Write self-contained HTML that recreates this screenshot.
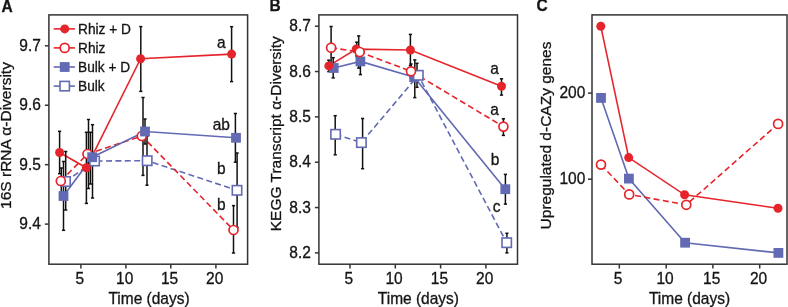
<!DOCTYPE html>
<html><head><meta charset="utf-8"><style>
html,body{margin:0;padding:0;background:#fff;}
body{width:788px;height:307px;overflow:hidden;}
svg{display:block;will-change:transform;}
</style></head><body>
<svg width="788" height="307" viewBox="0 0 788 307" font-family='"Liberation Sans", sans-serif' fill="#151515">
<style>text{stroke:#151515;stroke-width:0.3px;}</style>
<rect width="788" height="307" fill="#fff"/>
<polyline points="65.5,181.5 94.6,161 147.2,160.7 237,190.3" fill="none" stroke="#616ab2" stroke-width="1.6" stroke-dasharray="6,3.4"/>
<polyline points="60.8,181 87.5,154 141.8,136 233.5,230" fill="none" stroke="#e6242b" stroke-width="1.6" stroke-dasharray="6,3.4"/>
<polyline points="63.5,196 92.2,157.2 145,131.5 236,137.8" fill="none" stroke="#616ab2" stroke-width="1.6"/>
<polyline points="59.6,152.5 86.3,167.8 140.6,58.7 231.6,54.1" fill="none" stroke="#e6242b" stroke-width="1.6"/>
<line x1="65.7" y1="151.5" x2="65.7" y2="210" stroke="#111111" stroke-width="1.5"/>
<line x1="64.1" y1="151.5" x2="67.3" y2="151.5" stroke="#111111" stroke-width="1.5"/>
<line x1="64.1" y1="210" x2="67.3" y2="210" stroke="#111111" stroke-width="1.5"/>
<line x1="92.5" y1="124.7" x2="92.5" y2="198" stroke="#111111" stroke-width="1.5"/>
<line x1="90.9" y1="124.7" x2="94.1" y2="124.7" stroke="#111111" stroke-width="1.5"/>
<line x1="90.9" y1="198" x2="94.1" y2="198" stroke="#111111" stroke-width="1.5"/>
<line x1="147" y1="136" x2="147" y2="185.2" stroke="#111111" stroke-width="1.5"/>
<line x1="145.4" y1="136" x2="148.6" y2="136" stroke="#111111" stroke-width="1.5"/>
<line x1="145.4" y1="185.2" x2="148.6" y2="185.2" stroke="#111111" stroke-width="1.5"/>
<line x1="237.1" y1="153" x2="237.1" y2="227.6" stroke="#111111" stroke-width="1.5"/>
<line x1="235.5" y1="153" x2="238.7" y2="153" stroke="#111111" stroke-width="1.5"/>
<line x1="235.5" y1="227.6" x2="238.7" y2="227.6" stroke="#111111" stroke-width="1.5"/>
<line x1="61.3" y1="168" x2="61.3" y2="194" stroke="#111111" stroke-width="1.5"/>
<line x1="59.7" y1="168" x2="62.9" y2="168" stroke="#111111" stroke-width="1.5"/>
<line x1="59.7" y1="194" x2="62.9" y2="194" stroke="#111111" stroke-width="1.5"/>
<line x1="88.5" y1="119.5" x2="88.5" y2="188.5" stroke="#111111" stroke-width="1.5"/>
<line x1="86.9" y1="119.5" x2="90.1" y2="119.5" stroke="#111111" stroke-width="1.5"/>
<line x1="86.9" y1="188.5" x2="90.1" y2="188.5" stroke="#111111" stroke-width="1.5"/>
<line x1="143" y1="97.5" x2="143" y2="175.4" stroke="#111111" stroke-width="1.5"/>
<line x1="141.4" y1="97.5" x2="144.6" y2="97.5" stroke="#111111" stroke-width="1.5"/>
<line x1="141.4" y1="175.4" x2="144.6" y2="175.4" stroke="#111111" stroke-width="1.5"/>
<line x1="233.5" y1="205.6" x2="233.5" y2="253" stroke="#111111" stroke-width="1.5"/>
<line x1="231.9" y1="205.6" x2="235.1" y2="205.6" stroke="#111111" stroke-width="1.5"/>
<line x1="231.9" y1="253" x2="235.1" y2="253" stroke="#111111" stroke-width="1.5"/>
<line x1="63.5" y1="161.5" x2="63.5" y2="230.3" stroke="#111111" stroke-width="1.5"/>
<line x1="61.9" y1="161.5" x2="65.1" y2="161.5" stroke="#111111" stroke-width="1.5"/>
<line x1="61.9" y1="230.3" x2="65.1" y2="230.3" stroke="#111111" stroke-width="1.5"/>
<line x1="90.4" y1="132.3" x2="90.4" y2="184" stroke="#111111" stroke-width="1.5"/>
<line x1="88.8" y1="132.3" x2="92" y2="132.3" stroke="#111111" stroke-width="1.5"/>
<line x1="88.8" y1="184" x2="92" y2="184" stroke="#111111" stroke-width="1.5"/>
<line x1="145" y1="119" x2="145" y2="144" stroke="#111111" stroke-width="1.5"/>
<line x1="143.4" y1="119" x2="146.6" y2="119" stroke="#111111" stroke-width="1.5"/>
<line x1="143.4" y1="144" x2="146.6" y2="144" stroke="#111111" stroke-width="1.5"/>
<line x1="235.4" y1="113.5" x2="235.4" y2="162.2" stroke="#111111" stroke-width="1.5"/>
<line x1="233.8" y1="113.5" x2="237" y2="113.5" stroke="#111111" stroke-width="1.5"/>
<line x1="233.8" y1="162.2" x2="237" y2="162.2" stroke="#111111" stroke-width="1.5"/>
<line x1="59.6" y1="131.3" x2="59.6" y2="173.7" stroke="#111111" stroke-width="1.5"/>
<line x1="58" y1="131.3" x2="61.2" y2="131.3" stroke="#111111" stroke-width="1.5"/>
<line x1="58" y1="173.7" x2="61.2" y2="173.7" stroke="#111111" stroke-width="1.5"/>
<line x1="86.4" y1="132.3" x2="86.4" y2="203.4" stroke="#111111" stroke-width="1.5"/>
<line x1="84.8" y1="132.3" x2="88" y2="132.3" stroke="#111111" stroke-width="1.5"/>
<line x1="84.8" y1="203.4" x2="88" y2="203.4" stroke="#111111" stroke-width="1.5"/>
<line x1="140.8" y1="26.6" x2="140.8" y2="91.4" stroke="#111111" stroke-width="1.5"/>
<line x1="139.2" y1="26.6" x2="142.4" y2="26.6" stroke="#111111" stroke-width="1.5"/>
<line x1="139.2" y1="91.4" x2="142.4" y2="91.4" stroke="#111111" stroke-width="1.5"/>
<line x1="231.6" y1="26.7" x2="231.6" y2="81.6" stroke="#111111" stroke-width="1.5"/>
<line x1="230" y1="26.7" x2="233.2" y2="26.7" stroke="#111111" stroke-width="1.5"/>
<line x1="230" y1="81.6" x2="233.2" y2="81.6" stroke="#111111" stroke-width="1.5"/>
<rect x="60.8" y="176.8" width="9.4" height="9.4" fill="#fff" stroke="#616ab2" stroke-width="1.6"/>
<rect x="89.9" y="156.3" width="9.4" height="9.4" fill="#fff" stroke="#616ab2" stroke-width="1.6"/>
<rect x="142.5" y="156" width="9.4" height="9.4" fill="#fff" stroke="#616ab2" stroke-width="1.6"/>
<rect x="232.3" y="185.6" width="9.4" height="9.4" fill="#fff" stroke="#616ab2" stroke-width="1.6"/>
<circle cx="60.8" cy="181" r="4.5" fill="#fff" stroke="#e6242b" stroke-width="1.7"/>
<circle cx="87.5" cy="154" r="4.5" fill="#fff" stroke="#e6242b" stroke-width="1.7"/>
<circle cx="141.8" cy="136" r="4.5" fill="#fff" stroke="#e6242b" stroke-width="1.7"/>
<circle cx="233.5" cy="230" r="4.5" fill="#fff" stroke="#e6242b" stroke-width="1.7"/>
<rect x="58.6" y="191.1" width="9.8" height="9.8" fill="#616ab2"/>
<rect x="87.3" y="152.3" width="9.8" height="9.8" fill="#616ab2"/>
<rect x="140.1" y="126.6" width="9.8" height="9.8" fill="#616ab2"/>
<rect x="231.1" y="132.9" width="9.8" height="9.8" fill="#616ab2"/>
<circle cx="59.6" cy="152.5" r="4.5" fill="#e6242b"/>
<circle cx="86.3" cy="167.8" r="4.5" fill="#e6242b"/>
<circle cx="140.6" cy="58.7" r="4.5" fill="#e6242b"/>
<circle cx="231.6" cy="54.1" r="4.5" fill="#e6242b"/>
<rect x="48.9" y="14.9" width="198.7" height="249.3" fill="none" stroke="#333333" stroke-width="1.5"/>
<line x1="44.9" y1="45.81" x2="48.9" y2="45.81" stroke="#333333" stroke-width="1.5"/>
<text x="0" y="0" transform="translate(40.9,50.81) scale(1,1.06)" text-anchor="end" font-size="15.5">9.7</text>
<line x1="44.9" y1="105.24" x2="48.9" y2="105.24" stroke="#333333" stroke-width="1.5"/>
<text x="0" y="0" transform="translate(40.9,110.24) scale(1,1.06)" text-anchor="end" font-size="15.5">9.6</text>
<line x1="44.9" y1="164.67" x2="48.9" y2="164.67" stroke="#333333" stroke-width="1.5"/>
<text x="0" y="0" transform="translate(40.9,169.67) scale(1,1.06)" text-anchor="end" font-size="15.5">9.5</text>
<line x1="44.9" y1="224.1" x2="48.9" y2="224.1" stroke="#333333" stroke-width="1.5"/>
<text x="0" y="0" transform="translate(40.9,229.1) scale(1,1.06)" text-anchor="end" font-size="15.5">9.4</text>
<line x1="80.9" y1="264.2" x2="80.9" y2="268.5" stroke="#333333" stroke-width="1.5"/>
<text x="0" y="0" transform="translate(79.7,284.1) scale(1,1.06)" text-anchor="middle" font-size="15.5">5</text>
<line x1="125.9" y1="264.2" x2="125.9" y2="268.5" stroke="#333333" stroke-width="1.5"/>
<text x="0" y="0" transform="translate(124.7,284.1) scale(1,1.06)" text-anchor="middle" font-size="15.5">10</text>
<line x1="170.8" y1="264.2" x2="170.8" y2="268.5" stroke="#333333" stroke-width="1.5"/>
<text x="0" y="0" transform="translate(169.6,284.1) scale(1,1.06)" text-anchor="middle" font-size="15.5">15</text>
<line x1="215.9" y1="264.2" x2="215.9" y2="268.5" stroke="#333333" stroke-width="1.5"/>
<text x="0" y="0" transform="translate(214.7,284.1) scale(1,1.06)" text-anchor="middle" font-size="15.5">20</text>
<line x1="53.7" y1="28.9" x2="74.9" y2="28.9" stroke="#e6242b" stroke-width="1.6"/>
<circle cx="64.7" cy="28.9" r="4.5" fill="#e6242b"/>
<text x="0" y="0" transform="translate(78,33.9) scale(1,1.06)" text-anchor="start" font-size="13.7">Rhiz + D</text>
<line x1="53.7" y1="47.9" x2="74.9" y2="47.9" stroke="#e6242b" stroke-width="1.6"/>
<circle cx="64.7" cy="47.9" r="4.5" fill="#fff" stroke="#e6242b" stroke-width="1.7"/>
<text x="0" y="0" transform="translate(78,52.9) scale(1,1.06)" text-anchor="start" font-size="13.7">Rhiz</text>
<line x1="53.7" y1="67.0" x2="74.9" y2="67.0" stroke="#616ab2" stroke-width="1.6"/>
<rect x="59.8" y="62.1" width="9.8" height="9.8" fill="#616ab2"/>
<text x="0" y="0" transform="translate(78,72) scale(1,1.06)" text-anchor="start" font-size="13.7">Bulk + D</text>
<line x1="53.7" y1="86.1" x2="74.9" y2="86.1" stroke="#616ab2" stroke-width="1.6"/>
<rect x="60" y="81.4" width="9.4" height="9.4" fill="#fff" stroke="#616ab2" stroke-width="1.6"/>
<text x="0" y="0" transform="translate(78,91.1) scale(1,1.06)" text-anchor="start" font-size="13.7">Bulk</text>
<text x="0" y="0" transform="translate(221.4,47.8) scale(1,1.06)" text-anchor="middle" font-size="15.5">a</text>
<text x="0" y="0" transform="translate(221.3,129.5) scale(1,1.06)" text-anchor="middle" font-size="15.5">ab</text>
<text x="0" y="0" transform="translate(221.4,174) scale(1,1.06)" text-anchor="middle" font-size="15.5">b</text>
<text x="0" y="0" transform="translate(221.4,209.5) scale(1,1.06)" text-anchor="middle" font-size="15.5">b</text>
<text x="0" y="0" transform="translate(149,304.3) scale(1,1.06)" text-anchor="middle" font-size="15.5">Time (days)</text>
<text x="0" y="0" transform="translate(11.4,135.5) rotate(-90)" text-anchor="middle" font-size="15.5">16S rRNA α-Diversity</text>
<text x="0" y="0" transform="translate(1.6,12) scale(1,1.035)" text-anchor="start" font-size="15.5" font-weight="bold">A</text>
<polyline points="333.7,68 360.4,61.4 414.2,77.2 505.3,189.2" fill="none" stroke="#616ab2" stroke-width="1.6"/>
<polyline points="328.8,65.9 356.2,49.1 410.4,50 501.5,86.3" fill="none" stroke="#e6242b" stroke-width="1.6"/>
<polyline points="335.6,134.3 361.4,142.6 418.3,75.3 506.7,242.7" fill="none" stroke="#616ab2" stroke-width="1.6" stroke-dasharray="6,3.4"/>
<polyline points="331.1,47.7 359.7,52 411,71.3 503.4,126.6" fill="none" stroke="#e6242b" stroke-width="1.6" stroke-dasharray="6,3.4"/>
<line x1="333.2" y1="57.7" x2="333.2" y2="77.9" stroke="#111111" stroke-width="1.5"/>
<line x1="331.6" y1="57.7" x2="334.8" y2="57.7" stroke="#111111" stroke-width="1.5"/>
<line x1="331.6" y1="77.9" x2="334.8" y2="77.9" stroke="#111111" stroke-width="1.5"/>
<line x1="360.4" y1="48.2" x2="360.4" y2="74.6" stroke="#111111" stroke-width="1.5"/>
<line x1="358.8" y1="48.2" x2="362" y2="48.2" stroke="#111111" stroke-width="1.5"/>
<line x1="358.8" y1="74.6" x2="362" y2="74.6" stroke="#111111" stroke-width="1.5"/>
<line x1="414.8" y1="59.9" x2="414.8" y2="97.6" stroke="#111111" stroke-width="1.5"/>
<line x1="413.2" y1="59.9" x2="416.4" y2="59.9" stroke="#111111" stroke-width="1.5"/>
<line x1="413.2" y1="97.6" x2="416.4" y2="97.6" stroke="#111111" stroke-width="1.5"/>
<line x1="505.4" y1="174.4" x2="505.4" y2="204.1" stroke="#111111" stroke-width="1.5"/>
<line x1="503.8" y1="174.4" x2="507" y2="174.4" stroke="#111111" stroke-width="1.5"/>
<line x1="503.8" y1="204.1" x2="507" y2="204.1" stroke="#111111" stroke-width="1.5"/>
<line x1="328.8" y1="60.2" x2="328.8" y2="71.6" stroke="#111111" stroke-width="1.5"/>
<line x1="327.2" y1="60.2" x2="330.4" y2="60.2" stroke="#111111" stroke-width="1.5"/>
<line x1="327.2" y1="71.6" x2="330.4" y2="71.6" stroke="#111111" stroke-width="1.5"/>
<line x1="356.7" y1="42.2" x2="356.7" y2="56" stroke="#111111" stroke-width="1.5"/>
<line x1="355.1" y1="42.2" x2="358.3" y2="42.2" stroke="#111111" stroke-width="1.5"/>
<line x1="355.1" y1="56" x2="358.3" y2="56" stroke="#111111" stroke-width="1.5"/>
<line x1="410.4" y1="34.4" x2="410.4" y2="65.6" stroke="#111111" stroke-width="1.5"/>
<line x1="408.8" y1="34.4" x2="412" y2="34.4" stroke="#111111" stroke-width="1.5"/>
<line x1="408.8" y1="65.6" x2="412" y2="65.6" stroke="#111111" stroke-width="1.5"/>
<line x1="501.5" y1="78.8" x2="501.5" y2="95.1" stroke="#111111" stroke-width="1.5"/>
<line x1="499.9" y1="78.8" x2="503.1" y2="78.8" stroke="#111111" stroke-width="1.5"/>
<line x1="499.9" y1="95.1" x2="503.1" y2="95.1" stroke="#111111" stroke-width="1.5"/>
<line x1="335.2" y1="115.7" x2="335.2" y2="154.8" stroke="#111111" stroke-width="1.5"/>
<line x1="333.6" y1="115.7" x2="336.8" y2="115.7" stroke="#111111" stroke-width="1.5"/>
<line x1="333.6" y1="154.8" x2="336.8" y2="154.8" stroke="#111111" stroke-width="1.5"/>
<line x1="362.6" y1="118.5" x2="362.6" y2="168.7" stroke="#111111" stroke-width="1.5"/>
<line x1="361" y1="118.5" x2="364.2" y2="118.5" stroke="#111111" stroke-width="1.5"/>
<line x1="361" y1="168.7" x2="364.2" y2="168.7" stroke="#111111" stroke-width="1.5"/>
<line x1="417" y1="63.3" x2="417" y2="87.3" stroke="#111111" stroke-width="1.5"/>
<line x1="415.4" y1="63.3" x2="418.6" y2="63.3" stroke="#111111" stroke-width="1.5"/>
<line x1="415.4" y1="87.3" x2="418.6" y2="87.3" stroke="#111111" stroke-width="1.5"/>
<line x1="506.9" y1="233.3" x2="506.9" y2="252.9" stroke="#111111" stroke-width="1.5"/>
<line x1="505.3" y1="233.3" x2="508.5" y2="233.3" stroke="#111111" stroke-width="1.5"/>
<line x1="505.3" y1="252.9" x2="508.5" y2="252.9" stroke="#111111" stroke-width="1.5"/>
<line x1="331.1" y1="26.5" x2="331.1" y2="68.9" stroke="#111111" stroke-width="1.5"/>
<line x1="329.5" y1="26.5" x2="332.7" y2="26.5" stroke="#111111" stroke-width="1.5"/>
<line x1="329.5" y1="68.9" x2="332.7" y2="68.9" stroke="#111111" stroke-width="1.5"/>
<line x1="358.7" y1="35.9" x2="358.7" y2="68.1" stroke="#111111" stroke-width="1.5"/>
<line x1="357.1" y1="35.9" x2="360.3" y2="35.9" stroke="#111111" stroke-width="1.5"/>
<line x1="357.1" y1="68.1" x2="360.3" y2="68.1" stroke="#111111" stroke-width="1.5"/>
<line x1="411" y1="64" x2="411" y2="78" stroke="#111111" stroke-width="1.5"/>
<line x1="409.4" y1="64" x2="412.6" y2="64" stroke="#111111" stroke-width="1.5"/>
<line x1="409.4" y1="78" x2="412.6" y2="78" stroke="#111111" stroke-width="1.5"/>
<line x1="503.4" y1="118.8" x2="503.4" y2="135.4" stroke="#111111" stroke-width="1.5"/>
<line x1="501.8" y1="118.8" x2="505" y2="118.8" stroke="#111111" stroke-width="1.5"/>
<line x1="501.8" y1="135.4" x2="505" y2="135.4" stroke="#111111" stroke-width="1.5"/>
<rect x="328.8" y="63.1" width="9.8" height="9.8" fill="#616ab2"/>
<rect x="355.5" y="56.5" width="9.8" height="9.8" fill="#616ab2"/>
<rect x="409.3" y="72.3" width="9.8" height="9.8" fill="#616ab2"/>
<rect x="500.4" y="184.3" width="9.8" height="9.8" fill="#616ab2"/>
<circle cx="328.8" cy="65.9" r="4.5" fill="#e6242b"/>
<circle cx="356.2" cy="49.1" r="4.5" fill="#e6242b"/>
<circle cx="410.4" cy="50" r="4.5" fill="#e6242b"/>
<circle cx="501.5" cy="86.3" r="4.5" fill="#e6242b"/>
<rect x="330.9" y="129.6" width="9.4" height="9.4" fill="#fff" stroke="#616ab2" stroke-width="1.6"/>
<rect x="356.7" y="137.9" width="9.4" height="9.4" fill="#fff" stroke="#616ab2" stroke-width="1.6"/>
<rect x="413.6" y="70.6" width="9.4" height="9.4" fill="#fff" stroke="#616ab2" stroke-width="1.6"/>
<rect x="502" y="238" width="9.4" height="9.4" fill="#fff" stroke="#616ab2" stroke-width="1.6"/>
<circle cx="331.1" cy="47.7" r="4.5" fill="#fff" stroke="#e6242b" stroke-width="1.7"/>
<circle cx="359.7" cy="52" r="4.5" fill="#fff" stroke="#e6242b" stroke-width="1.7"/>
<circle cx="411" cy="71.3" r="4.5" fill="#fff" stroke="#e6242b" stroke-width="1.7"/>
<circle cx="503.4" cy="126.6" r="4.5" fill="#fff" stroke="#e6242b" stroke-width="1.7"/>
<rect x="318.9" y="14.9" width="198.6" height="249.3" fill="none" stroke="#333333" stroke-width="1.5"/>
<line x1="314.9" y1="26.2" x2="318.9" y2="26.2" stroke="#333333" stroke-width="1.5"/>
<text x="0" y="0" transform="translate(310.9,31.2) scale(1,1.06)" text-anchor="end" font-size="15.5">8.7</text>
<line x1="314.9" y1="71.54" x2="318.9" y2="71.54" stroke="#333333" stroke-width="1.5"/>
<text x="0" y="0" transform="translate(310.9,76.54) scale(1,1.06)" text-anchor="end" font-size="15.5">8.6</text>
<line x1="314.9" y1="116.88" x2="318.9" y2="116.88" stroke="#333333" stroke-width="1.5"/>
<text x="0" y="0" transform="translate(310.9,121.88) scale(1,1.06)" text-anchor="end" font-size="15.5">8.5</text>
<line x1="314.9" y1="162.22" x2="318.9" y2="162.22" stroke="#333333" stroke-width="1.5"/>
<text x="0" y="0" transform="translate(310.9,167.22) scale(1,1.06)" text-anchor="end" font-size="15.5">8.4</text>
<line x1="314.9" y1="207.56" x2="318.9" y2="207.56" stroke="#333333" stroke-width="1.5"/>
<text x="0" y="0" transform="translate(310.9,212.56) scale(1,1.06)" text-anchor="end" font-size="15.5">8.3</text>
<line x1="314.9" y1="252.9" x2="318.9" y2="252.9" stroke="#333333" stroke-width="1.5"/>
<text x="0" y="0" transform="translate(310.9,257.9) scale(1,1.06)" text-anchor="end" font-size="15.5">8.2</text>
<line x1="350" y1="264.2" x2="350" y2="268.5" stroke="#333333" stroke-width="1.5"/>
<text x="0" y="0" transform="translate(348.8,284.1) scale(1,1.06)" text-anchor="middle" font-size="15.5">5</text>
<line x1="395.3" y1="264.2" x2="395.3" y2="268.5" stroke="#333333" stroke-width="1.5"/>
<text x="0" y="0" transform="translate(394.1,284.1) scale(1,1.06)" text-anchor="middle" font-size="15.5">10</text>
<line x1="440.6" y1="264.2" x2="440.6" y2="268.5" stroke="#333333" stroke-width="1.5"/>
<text x="0" y="0" transform="translate(439.4,284.1) scale(1,1.06)" text-anchor="middle" font-size="15.5">15</text>
<line x1="485.9" y1="264.2" x2="485.9" y2="268.5" stroke="#333333" stroke-width="1.5"/>
<text x="0" y="0" transform="translate(484.7,284.1) scale(1,1.06)" text-anchor="middle" font-size="15.5">20</text>
<text x="0" y="0" transform="translate(494.6,73.6) scale(1,1.06)" text-anchor="middle" font-size="15.5">a</text>
<text x="0" y="0" transform="translate(494.6,115) scale(1,1.06)" text-anchor="middle" font-size="15.5">a</text>
<text x="0" y="0" transform="translate(495.1,164.7) scale(1,1.06)" text-anchor="middle" font-size="15.5">b</text>
<text x="0" y="0" transform="translate(496.5,211.9) scale(1,1.06)" text-anchor="middle" font-size="15.5">c</text>
<text x="0" y="0" transform="translate(418.4,304.3) scale(1,1.06)" text-anchor="middle" font-size="15.5">Time (days)</text>
<text x="0" y="0" transform="translate(280.8,133.8) rotate(-90)" text-anchor="middle" font-size="15.5">KEGG Transcript α-Diversity</text>
<text x="0" y="0" transform="translate(269.6,11) scale(1,1.035)" text-anchor="start" font-size="15.5" font-weight="bold">B</text>
<polyline points="601,97.9 628.9,178.6 685.1,242.7 778.4,252.9" fill="none" stroke="#616ab2" stroke-width="1.6"/>
<polyline points="600.8,26.3 628.7,157.6 684.6,194.8 778,208.3" fill="none" stroke="#e6242b" stroke-width="1.6"/>
<polyline points="601,164.6 629.2,194.4 686.3,204.8 778.1,123.9" fill="none" stroke="#e6242b" stroke-width="1.6" stroke-dasharray="6,3.4"/>
<rect x="596.1" y="93" width="9.8" height="9.8" fill="#616ab2"/>
<rect x="624" y="173.7" width="9.8" height="9.8" fill="#616ab2"/>
<rect x="680.2" y="237.8" width="9.8" height="9.8" fill="#616ab2"/>
<rect x="773.5" y="248" width="9.8" height="9.8" fill="#616ab2"/>
<circle cx="600.8" cy="26.3" r="4.5" fill="#e6242b"/>
<circle cx="628.7" cy="157.6" r="4.5" fill="#e6242b"/>
<circle cx="684.6" cy="194.8" r="4.5" fill="#e6242b"/>
<circle cx="778" cy="208.3" r="4.5" fill="#e6242b"/>
<circle cx="601" cy="164.6" r="4.5" fill="#fff" stroke="#e6242b" stroke-width="1.7"/>
<circle cx="629.2" cy="194.4" r="4.5" fill="#fff" stroke="#e6242b" stroke-width="1.7"/>
<circle cx="686.3" cy="204.8" r="4.5" fill="#fff" stroke="#e6242b" stroke-width="1.7"/>
<circle cx="778.1" cy="123.9" r="4.5" fill="#fff" stroke="#e6242b" stroke-width="1.7"/>
<rect x="592" y="14.9" width="195" height="249.3" fill="none" stroke="#333333" stroke-width="1.5"/>
<line x1="588" y1="93.1" x2="592" y2="93.1" stroke="#333333" stroke-width="1.5"/>
<text x="0" y="0" transform="translate(585.3,98.1) scale(1,1.06)" text-anchor="end" font-size="15.5">200</text>
<line x1="588" y1="179.2" x2="592" y2="179.2" stroke="#333333" stroke-width="1.5"/>
<text x="0" y="0" transform="translate(585.3,184.2) scale(1,1.06)" text-anchor="end" font-size="15.5">100</text>
<line x1="619.3" y1="264.2" x2="619.3" y2="268.5" stroke="#333333" stroke-width="1.5"/>
<text x="0" y="0" transform="translate(618.1,284.1) scale(1,1.06)" text-anchor="middle" font-size="15.5">5</text>
<line x1="666.2" y1="264.2" x2="666.2" y2="268.5" stroke="#333333" stroke-width="1.5"/>
<text x="0" y="0" transform="translate(665,284.1) scale(1,1.06)" text-anchor="middle" font-size="15.5">10</text>
<line x1="712.9" y1="264.2" x2="712.9" y2="268.5" stroke="#333333" stroke-width="1.5"/>
<text x="0" y="0" transform="translate(711.7,284.1) scale(1,1.06)" text-anchor="middle" font-size="15.5">15</text>
<line x1="759.7" y1="264.2" x2="759.7" y2="268.5" stroke="#333333" stroke-width="1.5"/>
<text x="0" y="0" transform="translate(758.5,284.1) scale(1,1.06)" text-anchor="middle" font-size="15.5">20</text>
<text x="0" y="0" transform="translate(689.5,304.3) scale(1,1.06)" text-anchor="middle" font-size="15.5">Time (days)</text>
<text x="0" y="0" transform="translate(550.6,135.5) rotate(-90)" text-anchor="middle" font-size="15.5">Upregulated d-CAZy genes</text>
<text x="0" y="0" transform="translate(536.5,11.3) scale(1,1.035)" text-anchor="start" font-size="15.5" font-weight="bold">C</text>
</svg>
</body></html>
